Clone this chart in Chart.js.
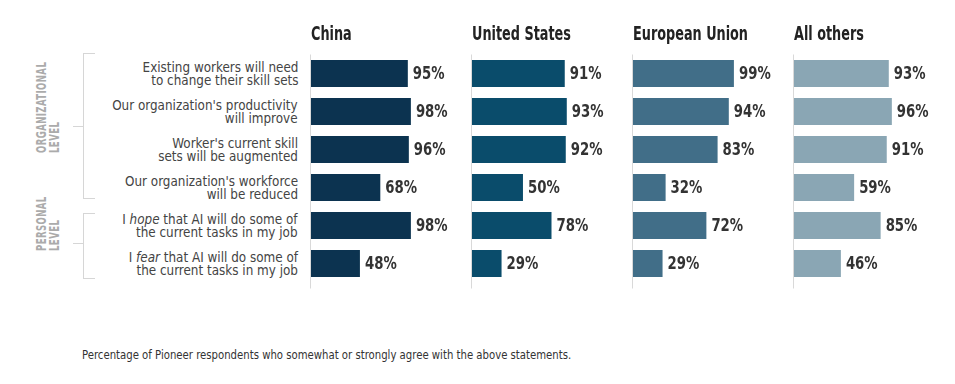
<!DOCTYPE html>
<html>
<head>
<meta charset="utf-8">
<script src="https://cdn.jsdelivr.net/npm/chart.js@4"></script>
<style>
    body { margin: 0; background: #fff; }
    #wrap { position: relative; width: 955px; height: 384px; overflow: hidden;
        font-family: "DejaVu Sans Condensed", "DejaVu Sans", sans-serif; font-stretch: condensed; }
    .panel { position: absolute; top: 0; width: 161px; height: 300px; }
    .rows { position: absolute; left: 60px; width: 238px; top: 54.5px; }
    .row { height: 38px; display: flex; align-items: center; justify-content: flex-end; }
    .row div { text-align: right; font-size: 14.5px; line-height: 13px; color: #444;
        transform: scaleX(0.92); transform-origin: right center; white-space: nowrap; }
    .group { position: absolute; color: #ababab; font-weight: bold; font-size: 14px;
        letter-spacing: 0.6px; line-height: 13px; transform: rotate(-90deg) scaleX(0.68);
        transform-origin: left top; white-space: nowrap; }
    .brk { position: absolute; border: 1px solid #d6d6d6; border-right: none; width: 11px; }
    .tick { position: absolute; height: 0; border-top: 1px solid #d6d6d6; width: 10px; }
    #note { position: absolute; left: 82px; top: 347px; font-size: 12.5px; color: #333;
        transform: scaleX(0.9); transform-origin: left top; white-space: nowrap; }
</style>
</head>
<body>
<div id="wrap">
    <div class="panel" style="left:309px"><canvas id="c0"></canvas></div>
    <div class="panel" style="left:470px"><canvas id="c1"></canvas></div>
    <div class="panel" style="left:631px"><canvas id="c2"></canvas></div>
    <div class="panel" style="left:792px"><canvas id="c3"></canvas></div>
    <div class="rows" id="rows"></div>
    <div class="brk" style="left:83px; top:53px; height:144px"></div>
    <div class="tick" style="left:73px; top:126px"></div>
    <div class="brk" style="left:83px; top:213px; height:64px"></div>
    <div class="tick" style="left:73px; top:243px"></div>
    <div class="group" style="left:35px; top:153px">ORGANIZATIONAL<br>LEVEL</div>
    <div class="group" style="left:35px; top:251px">PERSONAL<br>LEVEL</div>
    <div id="note">Percentage of Pioneer respondents who somewhat or strongly agree with the above statements.</div>
</div>
<script>
const statements = [
    "Existing workers will need<br>to change their skill sets",
    "Our organization's productivity<br>will improve",
    "Worker's current skill<br>sets will be augmented",
    "Our organization's workforce<br>will be reduced",
    "I <i>hope</i> that AI will do some of<br>the current tasks in my job",
    "I <i>fear</i> that AI will do some of<br>the current tasks in my job"
];
const regions = ["China", "United States", "European Union", "All others"];
const china = [95, 98, 96, 68, 98, 48];
const unitedStates = [91, 93, 92, 50, 78, 29];
const europeanUnion = [99, 94, 83, 32, 72, 29];
const allOthers = [93, 96, 91, 59, 85, 46];
const seriesValues = [china, unitedStates, europeanUnion, allOthers];
const colors = ["#0c3350", "#0a4c6b", "#416e88", "#8aa6b4"];

const FONT = "'DejaVu Sans Condensed', 'DejaVu Sans', sans-serif";

let rowsHtml = "";
for (let i = 0; i < statements.length; i++) {
    rowsHtml += `<div class="row"><div>${statements[i]}</div></div>`;
}
document.getElementById("rows").innerHTML = rowsHtml;

// narrow text: canvas has no condensed face, so squeeze it horizontally
function narrowText(ctx, text, x, y, size, squeeze) {
    ctx.save();
    ctx.translate(x, y);
    ctx.scale(squeeze, 1);
    ctx.font = "bold " + size + "px " + FONT;
    ctx.fillText(text, 0, 0);
    ctx.restore();
}

// panel title, left rule and value labels
const panelExtras = {
    id: "panelExtras",
    afterDatasetsDraw(chart) {
        let ctx = chart.ctx;
        let area = chart.chartArea;
        ctx.save();
        ctx.strokeStyle = "#d9d9d9";
        ctx.lineWidth = 1;
        ctx.beginPath();
        ctx.moveTo(area.left - 0.5, area.top);
        ctx.lineTo(area.left - 0.5, area.bottom + 6);
        ctx.stroke();
        ctx.textBaseline = "middle";
        ctx.fillStyle = "#222";
        narrowText(ctx, chart.options.plugins.panelExtras.title, area.left, 35.5, 19, 0.75);
        ctx.fillStyle = "#333";
        let meta = chart.getDatasetMeta(0);
        meta.data.forEach((bar, i) => {
            narrowText(ctx, chart.data.datasets[0].data[i] + "%", bar.x + 5, bar.y + 1, 18, 0.82);
        });
        ctx.restore();
    }
};

for (let k = 0; k < regions.length; k++) {
    new Chart(document.getElementById("c" + k), {
        type: "bar",
        data: {
            labels: statements,
            datasets: [{
                data: seriesValues[k],
                backgroundColor: colors[k],
                borderWidth: 0,
                barPercentage: 0.71,
                categoryPercentage: 1
            }]
        },
        options: {
            indexAxis: "y",
            responsive: true,
            maintainAspectRatio: false,
            animation: false,
            layout: { padding: { left: 2, right: 0, top: 54.5, bottom: 17.5 } },
            scales: {
                x: { display: false, min: 0, max: 156 },
                y: { display: false }
            },
            plugins: {
                legend: { display: false },
                tooltip: { enabled: false },
                panelExtras: { title: regions[k] }
            }
        },
        plugins: [panelExtras]
    });
}
</script>
</body>
</html>
